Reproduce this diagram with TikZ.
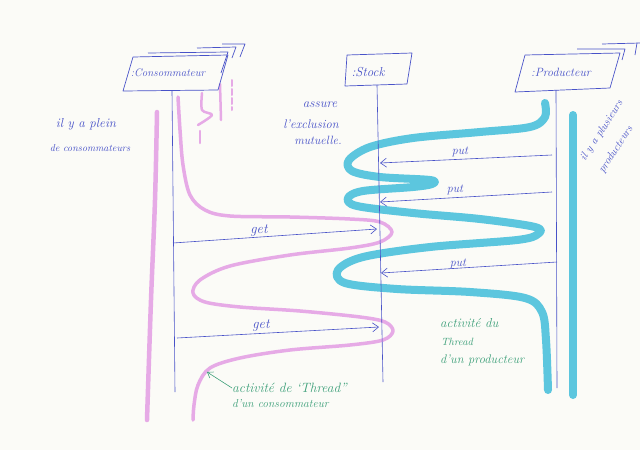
\documentclass[tikz,border=0pt]{standalone}
\usepackage{fontspec}
\usetikzlibrary{arrows.meta}
\definecolor{ink}{RGB}{72,82,200}
\definecolor{pinkhl}{RGB}{230,170,230}
\definecolor{cyanhl}{RGB}{92,198,222}
\definecolor{greenink}{RGB}{62,160,122}
\definecolor{paper}{RGB}{251,251,247}
\newcommand{\fs}[1]{\itshape\fontsize{#1}{#1}\selectfont}
\begin{document}
\begin{tikzpicture}[x=1pt,y=-1pt,
  box/.style={draw=ink, line width=0.7pt, line join=round},
  lifeline/.style={draw=ink, line width=0.6pt},
  msg/.style={draw=ink, line width=0.6pt, -{Straight Barb[length=6pt,width=9pt]}},
  lbl/.style={text=ink, inner sep=0pt},
  note/.style={text=ink, inner sep=0pt},
  gnote/.style={text=greenink, inner sep=0pt},
  pinkthread/.style={draw=pinkhl, line width=3.5pt, line cap=round, line join=round},
  cyanthread/.style={draw=cyanhl, line width=8pt, line cap=round, line join=round},
]
\fill[paper] (0,0) rectangle (640,450);
\useasboundingbox (0,0) rectangle (640,450);

% ---- highlighter threads (behind the ink) ----
\draw[pinkthread, line width=4.5pt] plot[smooth, tension=0.6] coordinates {(157,112) (155,200) (151,300) (147,420)};
\draw[pinkthread] plot[smooth, tension=0.55] coordinates {
 (178,97) (180,130) (183,165) (190,195) (205,210) (230,216) (290,217) (350,219) (380,222)
 (392,232) (380,242) (350,248) (290,255) (230,266) (200,280) (193,293) (205,302) (240,307)
 (300,311) (360,317) (385,322) (393,331) (383,340) (350,345) (290,350) (240,358) (210,368)
 (198,385) (194,405) (193,420)};
\draw[pinkthread, line width=2.5pt] plot[smooth, tension=0.5] coordinates {(202,93) (202,110) (212,115) (198,125)};
\draw[pinkthread, line width=2.5pt] (200,131) -- (200,143);
\draw[pinkthread, line width=2.5pt] (220,84) -- (221,120);
\draw[pinkthread, line width=2pt, dash pattern=on 6pt off 3pt] (232,80) -- (232,110);

\draw[cyanthread] (573,115) -- (573,395);
\draw[cyanthread] plot[smooth, tension=0.55] coordinates {
 (545,103) (545,117) (530,127) (480,132) (413,138) (370,147) (349,160) (352,171) (380,177)
 (430,180) (432,184) (413,187) (363,191) (348,198) (357,206) (413,213) (480,219) (535,227)
 (538,234) (517,240) (430,247) (363,257) (338,270) (345,283) (397,289) (470,292) (525,298)
 (542,312) (546,340) (548,390)};

% ---- object boxes ----
\draw[box] (133,57) -- (228,55) -- (218,90) -- (123,91) -- cycle;
\draw[box] (148,53) -- (228,52) -- (221,73);
\draw[box] (197,48) -- (236,47) -- (232,58);
\draw[box] (222,44) -- (245,44) -- (240,57);
\node[lbl, font=\fs{11}] (cons) at (168,73) {:Consommateur};

\draw[box] (347,55) -- (412,53) -- (407,84) -- (345,86) -- cycle;
\node[lbl, font=\fs{13}] (stock) at (368,72) {:Stock};

\draw[box] (525,55) -- (620,53) -- (610,88) -- (515,92) -- cycle;
\draw[box] (577,49) -- (625,49) -- (622,60);
\draw[box] (602,44) -- (640,43);
\draw[box] (637,43) -- (635,55);
\node[lbl, font=\fs{12}] (prod) at (561,72) {:Producteur};

% ---- lifelines ----
\coordinate (cTop) at (172,91);  \coordinate (cBot) at (175,392);
\coordinate (sTop) at (377,85);  \coordinate (sBot) at (383,382);
\coordinate (pTop) at (556,90);  \coordinate (pBot) at (557,388);
\draw[lifeline] (cTop) -- (cBot);
\draw[lifeline] (sTop) -- (sBot);
\draw[lifeline] (pTop) -- (pBot);

% ---- messages ----
\coordinate (put1a) at (552,155); \coordinate (put1b) at (380,163);
\coordinate (put2a) at (552,192); \coordinate (put2b) at (380,202);
\coordinate (put3a) at (557,262); \coordinate (put3b) at (381,273);
\coordinate (get1a) at (173,243); \coordinate (get1b) at (377,229);
\coordinate (get2a) at (177,338); \coordinate (get2b) at (379,327);
\draw[msg] (put1a) -- (put1b);
\draw[msg] (put2a) -- (put2b);
\draw[msg] (put3a) -- (put3b);
\draw[msg] (get1a) -- (get1b);
\draw[msg] (get2a) -- (get2b);
\node[note, font=\fs{12}] (lput1) at (460,152) {put};
\node[note, font=\fs{12}] (lput2) at (455,190) {put};
\node[note, font=\fs{12}] (lput3) at (458,264) {put};
\node[note, font=\fs{14}] (lget1) at (259,231) {get};
\node[note, font=\fs{14}] (lget2) at (261,326) {get};

% ---- notes ----
\node[note, font=\fs{13}] (n1a) at (86,124) {il y a plein};
\node[note, font=\fs{10}] (n1b) at (90,148) {de consommateurs};
\node[note, font=\fs{13}] (n2a) at (320,105) {assure};
\node[note, font=\fs{12.5}] (n2b) at (311,124) {l'exclusion};
\node[note, font=\fs{12}] (n2c) at (318,140) {mutuelle.};
\node[note, font=\itshape\fontsize{11}{22}\selectfont, rotate=57, align=left] (n3) at (611,137) {il y a plusieurs\\producteurs};

\node[gnote, font=\fs{13}, anchor=west] (g1a) at (440,323) {activité du};
\node[gnote, font=\fs{10.5}, anchor=west] (g1b) at (441,342) {Thread};
\node[gnote, font=\fs{12.5}, anchor=west] (g1c) at (440,360) {d'un producteur};

\node[gnote, font=\fs{13.5}, anchor=west] (g2a) at (232,388) {activité de ‘Thread”};
\node[gnote, font=\fs{11.5}, anchor=west] (g2b) at (232,404) {d'un consommateur};
\coordinate (g2tip) at (207,372);
\draw[greenink, line width=0.6pt, -{Straight Barb[length=5pt,width=7pt]}] (g2a.west) -- (g2tip);
\end{tikzpicture}
\end{document}
